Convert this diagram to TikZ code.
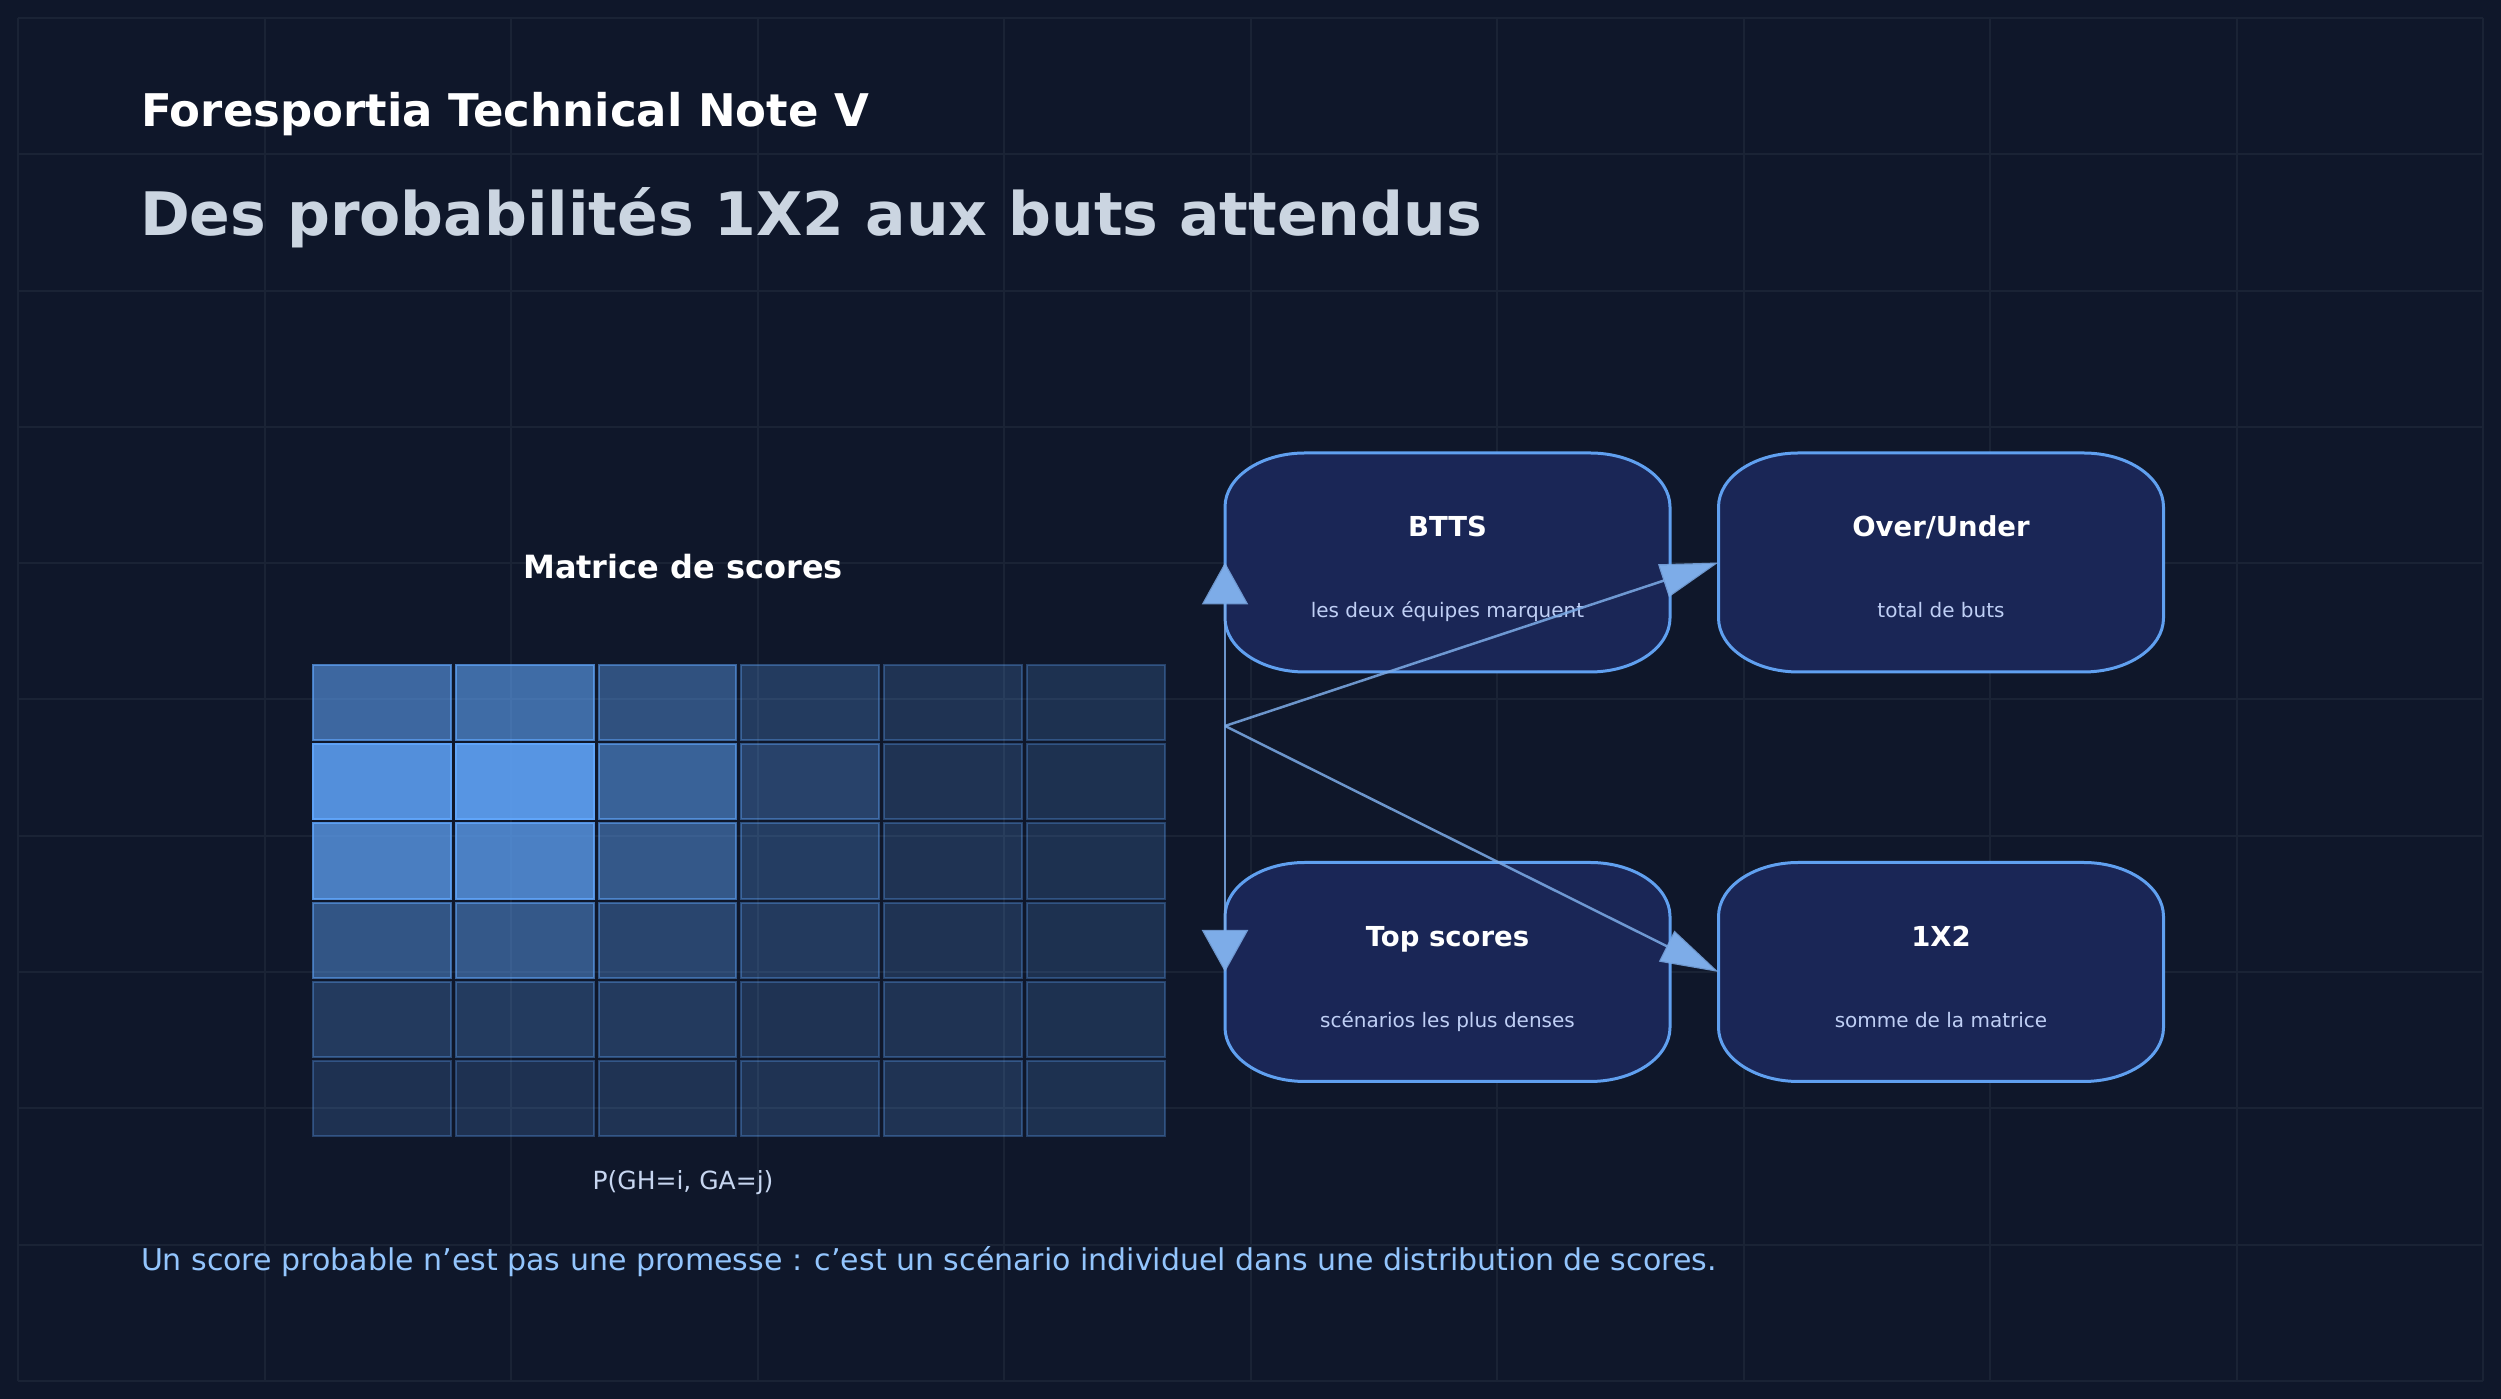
\documentclass[tikz,border=0pt]{standalone}
\usepackage{fontspec}
\setmainfont{DejaVu Sans}
\usetikzlibrary{arrows.meta}

\begin{document}
\begin{tikzpicture}[x=1pt,y=1pt,
  box/.style={inner sep=0pt,outer sep=0pt,minimum width=445pt,minimum height=219pt},
  boxtitle/.style={text=white,anchor=base,inner sep=0pt,outer sep=0pt,font=\fontsize{27.5}{33}\selectfont\bfseries},
  boxsub/.style={text=subColor,anchor=base,inner sep=0pt,outer sep=0pt,font=\fontsize{20}{24}\selectfont},
  flow/.style={draw=flowColor,draw opacity=0.85,line width=2.5pt,-{Triangle[length=42pt,width=46pt]}},
  flowslant/.style={flow,-{Triangle[length=58pt,width=34pt]}}]
\definecolor{bgColor}{RGB}{15,23,42}
\path[use as bounding box,fill=bgColor] (0,0) rectangle (2501,1399);

\definecolor{gridColor}{RGB}{26,35,53}
\foreach \i in {0,...,10}{
  \path[draw=gridColor,line width=2pt] ({18+246.5*\i},18) -- ({18+246.5*\i},1381);
  \path[draw=gridColor,line width=2pt] (18,{18+136.3*\i}) -- (2483,{18+136.3*\i});
}

\definecolor{titleColor}{RGB}{203,213,225}
\node[text=white,anchor=base west,inner sep=0pt,outer sep=0pt,font=\fontsize{45}{54}\selectfont\bfseries] (kicker) at (141,1272) {Foresportia Technical Note V};

\node[text=titleColor,anchor=base west,inner sep=0pt,outer sep=0pt,font=\fontsize{60}{72}\selectfont\bfseries] (title) at (140,1163) {Des probabilités 1X2 aux buts attendus};

\node[text=white,anchor=base,inner sep=0pt,outer sep=0pt,font=\fontsize{32}{38}\selectfont\bfseries] (mtitle) at (683,820) {Matrice de scores};

\definecolor{cellColor}{RGB}{96,165,250}
\foreach \row [count=\r from 0] in {{0.57,0.60,0.41,0.26,0.20,0.185},
                                    {0.85,0.89,0.53,0.31,0.20,0.185},
                                    {0.73,0.74,0.46,0.27,0.20,0.185},
                                    {0.44,0.46,0.33,0.25,0.20,0.185},
                                    {0.25,0.26,0.25,0.20,0.20,0.185},
                                    {0.19,0.19,0.20,0.20,0.20,0.185}}{
  \foreach \a [count=\c from 0] in \row {
    \pgfmathsetmacro\b{min(1,\a+0.12)}
    \path[draw=cellColor,fill=cellColor,fill opacity=\a,draw opacity=\b,line width=2pt] ({313+142.8*\c},{734-79.2*\r}) rectangle ++(137.8,-75.2);
  }
}

\definecolor{capColor}{RGB}{199,214,240}
\node[text=capColor,anchor=base,inner sep=0pt,outer sep=0pt,font=\fontsize{25}{30}\selectfont] (mcap) at (683,209) {P(GH=i, GA=j)};

\definecolor{boxLine}{RGB}{96,160,240}
\definecolor{boxFill}{RGB}{26,38,86}
\definecolor{subColor}{RGB}{191,207,245}
\node[box] (btts) at (1447.5,836.5) {};
\node[box] (ou) at (1941,836.5) {};
\node[box] (tops) at (1447.5,427) {};
\node[box] (onex) at (1941,427) {};
\foreach \n in {btts,ou,tops,onex}{
  \path[draw=boxLine,fill=boxFill,line width=3pt] ([xshift=80pt]\n.north west) -- ([xshift=-80pt]\n.north east)
    arc[start angle=90,end angle=0,x radius=80,y radius=54] -- ([yshift=54pt]\n.south east)
    arc[start angle=0,end angle=-90,x radius=80,y radius=54] -- ([xshift=80pt]\n.south west)
    arc[start angle=270,end angle=180,x radius=80,y radius=54] -- ([yshift=-54pt]\n.north west)
    arc[start angle=180,end angle=90,x radius=80,y radius=54] -- cycle;
}

\node[boxtitle] (btts-t) at ([yshift=25.5pt]btts.center) {BTTS};
\node[boxsub] (btts-s) at ([yshift=-55.5pt]btts.center) {les deux équipes marquent};
\node[boxtitle] (ou-t) at ([yshift=25.5pt]ou.center) {Over/Under};
\node[boxsub] (ou-s) at ([yshift=-55.5pt]ou.center) {total de buts};
\node[boxtitle] (tops-t) at ([yshift=25.5pt]tops.center) {Top scores};
\node[boxsub] (tops-s) at ([yshift=-55.5pt]tops.center) {scénarios les plus denses};
\node[boxtitle] (onex-t) at ([yshift=25.5pt]onex.center) {1X2};
\node[boxsub] (onex-s) at ([yshift=-55.5pt]onex.center) {somme de la matrice};

\definecolor{flowColor}{RGB}{125,172,232}
\coordinate (fork) at (1225,673);
\draw[flow] (fork) -- (btts.west);
\draw[flow] (fork) -- (tops.west);
\draw[flowslant] (fork) -- (ou.west);
\draw[flowslant] (fork) -- (onex.west);

\definecolor{noteColor}{RGB}{147,197,253}
\node[text=noteColor,anchor=base west,inner sep=0pt,outer sep=0pt,font=\fontsize{30}{36}\selectfont] (note) at (141,128) {Un score probable n’est pas une promesse : c’est un scénario individuel dans une distribution de scores.};
\end{tikzpicture}
\end{document}
